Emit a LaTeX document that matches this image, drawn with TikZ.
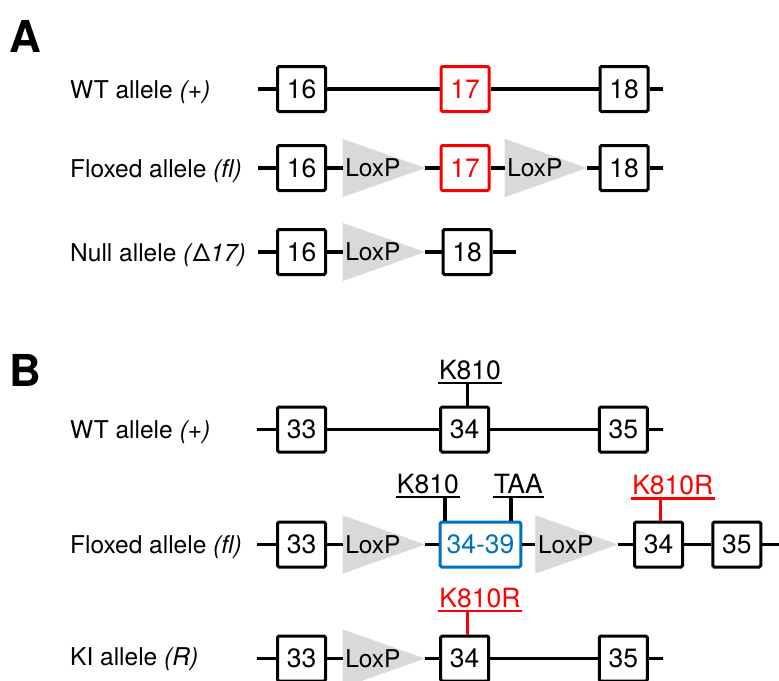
\documentclass[tikz,border=0pt]{standalone}
\usepackage{fontspec}
\setmainfont{TeX Gyre Heros}
\usetikzlibrary{backgrounds}
\definecolor{loxgray}{RGB}{217,217,217}
\definecolor{exred}{RGB}{250,0,0}
\definecolor{exblue}{RGB}{0,114,189}
\begin{document}
\begin{tikzpicture}[x=1pt,y=-1pt,
  strand/.style={line width=3.5pt},
  exon/.style={draw, line width=3pt, rounded corners=1.5pt, fill=white,
    minimum width=48pt, minimum height=45pt, inner sep=0pt,
    font=\fontsize{26.5}{26.5}\selectfont},
  lox/.style={rectangle, inner xsep=2.5pt, inner ysep=0pt, text width=77pt,
    align=left, minimum height=58pt, font=\fontsize{24.5}{24.5}\selectfont},
  allele/.style={anchor=base west, inner sep=0pt, font=\fontsize{24.5}{24.5}\selectfont},
  panel/.style={anchor=base west, inner sep=0pt, font=\fontsize{44}{44}\selectfont\bfseries},
  site/.style={anchor=base, inner xsep=1pt, inner ysep=3.6pt, text depth=0pt,
    font=\fontsize{26.5}{26.5}\selectfont},
  uline/.style={line width=2.6pt},
  stem/.style={line width=3.5pt},
]
\useasboundingbox (0,0) rectangle (779,680);

% ---------------- Panel A ----------------
\node[panel] (pA) at (9,52) {A};

% WT allele
\node[allele] (lA1) at (70,98) {WT allele \textit{(+)}};
\coordinate (sA1) at (258,89);
\coordinate (eA1) at (663,89);
\node[exon] (a16) at (301.5,89) {16};
\node[exon, draw=exred, text=exred] (a17) at (465,89) {17};
\node[exon] (a18) at (624,89) {18};
\draw[strand] (sA1) -- (a16) -- (a17) -- (a18) -- (eA1);

% Floxed allele
\node[allele] (lA2) at (70,177) {Floxed allele \textit{(fl)}};
\coordinate (sA2) at (258,168);
\coordinate (eA2) at (663,168);
\node[exon] (f16) at (301.5,168) {16};
\node[lox] (fl1) at (383.8,168) {LoxP};
\node[exon, draw=exred, text=exred] (f17) at (465,168) {17};
\node[lox] (fl2) at (545.8,168) {LoxP};
\node[exon] (f18) at (624,168) {18};
\draw[strand] (sA2) -- (f16) -- (fl1) -- (f17) -- (fl2) -- (f18) -- (eA2);

% Null allele
\node[allele] (lA3) at (70,261) {Null allele \textit{(}Δ\textit{17)}};
\coordinate (sA3) at (258,252);
\coordinate (eA3) at (516,252);
\node[exon] (n16) at (301.5,252) {16};
\node[lox] (nl1) at (383.8,252) {LoxP};
\node[exon] (n18) at (467,252) {18};
\draw[strand] (sA3) -- (n16) -- (nl1) -- (n18) -- (eA3);

% ---------------- Panel B ----------------
\node[panel] (pB) at (9,386) {B};

% WT allele
\node[allele] (lB1) at (70,438.5) {WT allele \textit{(+)}};
\coordinate (sB1) at (257,429.5);
\coordinate (eB1) at (663,429.5);
\node[exon] (w33) at (301.5,429.5) {33};
\node[exon] (w34) at (464.7,429.5) {34};
\node[exon] (w35) at (623.3,429.5) {35};
\draw[strand] (sB1) -- (w33) -- (w34) -- (w35) -- (eB1);
\node[site] (wk) at (470,379) {K810};
\draw[uline] (wk.south west) -- (wk.south east);
\draw[stem] ([xshift=2.6pt]w34.north) -- ([xshift=2.6pt]w34.north |- wk.south);

% Floxed allele
\node[allele] (lB2) at (70,553.5) {Floxed allele \textit{(fl)}};
\coordinate (sB2) at (257,544.5);
\coordinate (eB2) at (782,544.5);
\node[exon] (g33) at (301.5,544.5) {33};
\node[lox] (gl1) at (383.8,544.5) {LoxP};
\node[exon, minimum width=80.6pt, draw=exblue, text=exblue] (g3439) at (480.5,544.5) {34-39};
\node[lox] (gl2) at (576.6,544.5) {LoxP};
\node[exon] (g34) at (658.5,544.5) {34};
\node[exon] (g35) at (736.8,544.5) {35};
\draw[strand] (sB2) -- (g33) -- (gl1) -- (g3439) -- (gl2) -- (g34) -- (g35) -- (eB2);
\node[site] (gk) at (427.8,493) {K810};
\draw[uline] (gk.south west) -- (gk.south east);
\draw[stem] ([xshift=6.5pt]g3439.north west) -- ([xshift=6.5pt]g3439.north west |- gk.south);
\node[site] (gt) at (518.3,493) {TAA};
\draw[uline] (gt.south west) -- (gt.south east);
\draw[stem] ([xshift=-11.5pt]g3439.north east) -- ([xshift=-11.5pt]g3439.north east |- gt.south);
\node[site, text=exred] (gr) at (672.8,494.5) {K810R};
\draw[uline, exred] (gr.south west) -- (gr.south east);
\draw[stem, exred] ([xshift=2.2pt]g34.north) -- ([xshift=2.2pt]g34.north |- gr.south);

% KI allele
\node[allele] (lB3) at (70,665) {KI allele \textit{(R)}};
\coordinate (sB3) at (257,658.5);
\coordinate (eB3) at (663,658.5);
\node[exon] (k33) at (301.5,658.5) {33};
\node[lox] (kl1) at (383.8,658.5) {LoxP};
\node[exon] (k34) at (464.7,658.5) {34};
\node[exon] (k35) at (623.3,658.5) {35};
\draw[strand] (sB3) -- (k33) -- (kl1) -- (k34) -- (k35) -- (eB3);
\node[site, text=exred] (kr) at (480,607) {K810R};
\draw[uline, exred] (kr.south west) -- (kr.south east);
\draw[stem, exred] ([xshift=2.6pt]k34.north) -- ([xshift=2.6pt]k34.north |- kr.south);

% LoxP triangles behind their labels
\begin{scope}[on background layer]
  \foreach \n in {fl1,fl2,nl1,gl1,gl2,kl1}
    \fill[loxgray] (\n.north west) -- (\n.south west) -- (\n.east) -- cycle;
\end{scope}
\end{tikzpicture}
\end{document}
